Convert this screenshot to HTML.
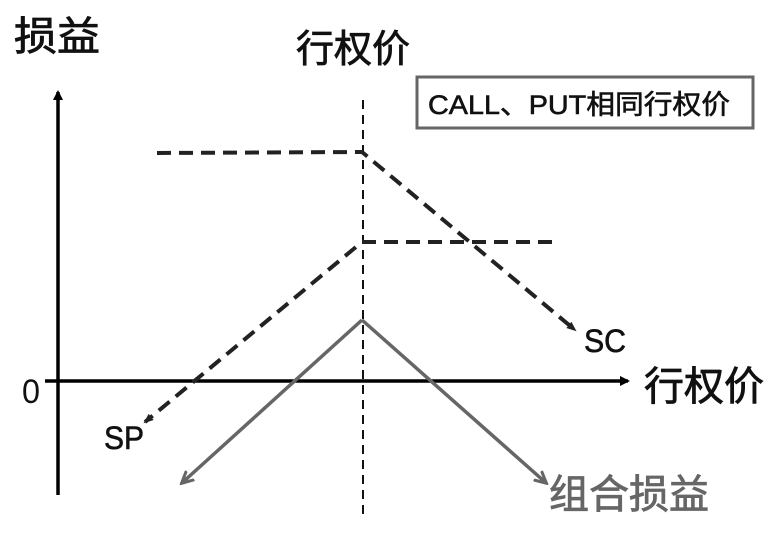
<!DOCTYPE html>
<html><head><meta charset="utf-8"><style>
body{margin:0;background:#fff;}
text{font-family:"Liberation Sans","Noto Sans CJK SC",sans-serif;}
</style></head><body>
<svg width="780" height="528" viewBox="0 0 780 528" xmlns="http://www.w3.org/2000/svg">
<defs>
<marker id="ab" markerWidth="10" markerHeight="10" refX="8" refY="5" orient="auto" markerUnits="userSpaceOnUse"><path d="M0,0 L10,5 L0,10 z" fill="#000"/></marker>
<marker id="ad" markerWidth="10" markerHeight="10" refX="8" refY="5" orient="auto" markerUnits="userSpaceOnUse"><path d="M0,1 L10,5 L0,9 z" fill="#222"/></marker>
<marker id="ag" markerWidth="14" markerHeight="14" refX="10" refY="7" orient="auto" markerUnits="userSpaceOnUse"><path d="M0,1 L12,7 L0,13" fill="none" stroke="#666" stroke-width="3"/></marker>
</defs>
<text x="14" y="50" font-size="40" fill="#111" stroke="#111" stroke-width="0.8" textLength="86" lengthAdjust="spacingAndGlyphs">损益</text>
<text x="296" y="62" font-size="38" fill="#111" stroke="#111" stroke-width="0.8">行权价</text>
<line x1="58" y1="495" x2="58" y2="92" stroke="#000" stroke-width="3.5" marker-end="url(#ab)"/>
<line x1="45" y1="381" x2="628" y2="381" stroke="#000" stroke-width="3.5" marker-end="url(#ab)"/>
<line x1="363" y1="100" x2="363" y2="520" stroke="#111" stroke-width="2" stroke-dasharray="9,6"/>
<rect x="417" y="77" width="336" height="51" fill="#fff" stroke="#666" stroke-width="3"/>
<text x="428" y="114" font-size="27" fill="#111" stroke="#111" stroke-width="0.6" textLength="302" lengthAdjust="spacingAndGlyphs">CALL、PUT相同行权价</text>
<polyline points="157,153 362,152 575,330" fill="none" stroke="#222" stroke-width="4" stroke-dasharray="14,8" marker-end="url(#ad)"/>
<polyline points="552,242 362,242 145,422" fill="none" stroke="#222" stroke-width="4" stroke-dasharray="14,8" marker-end="url(#ad)"/>
<line x1="362" y1="320" x2="183" y2="482" stroke="#666" stroke-width="3.5" marker-end="url(#ag)"/>
<line x1="362" y1="320" x2="545" y2="482" stroke="#666" stroke-width="3.5" marker-end="url(#ag)"/>
<text x="584" y="352" font-size="32" fill="#111" stroke="#111" stroke-width="0.6" textLength="42" lengthAdjust="spacingAndGlyphs">SC</text>
<text x="104" y="449" font-size="32" fill="#111" stroke="#111" stroke-width="0.6" textLength="40" lengthAdjust="spacingAndGlyphs">SP</text>
<text x="22" y="403" font-size="34" fill="#111" textLength="18" lengthAdjust="spacingAndGlyphs">0</text>
<text x="644" y="400" font-size="40" fill="#111" stroke="#111" stroke-width="0.8">行权价</text>
<text x="549" y="508" font-size="40" fill="#666" stroke="#666" stroke-width="0.8">组合损益</text>
</svg>
</body></html>
